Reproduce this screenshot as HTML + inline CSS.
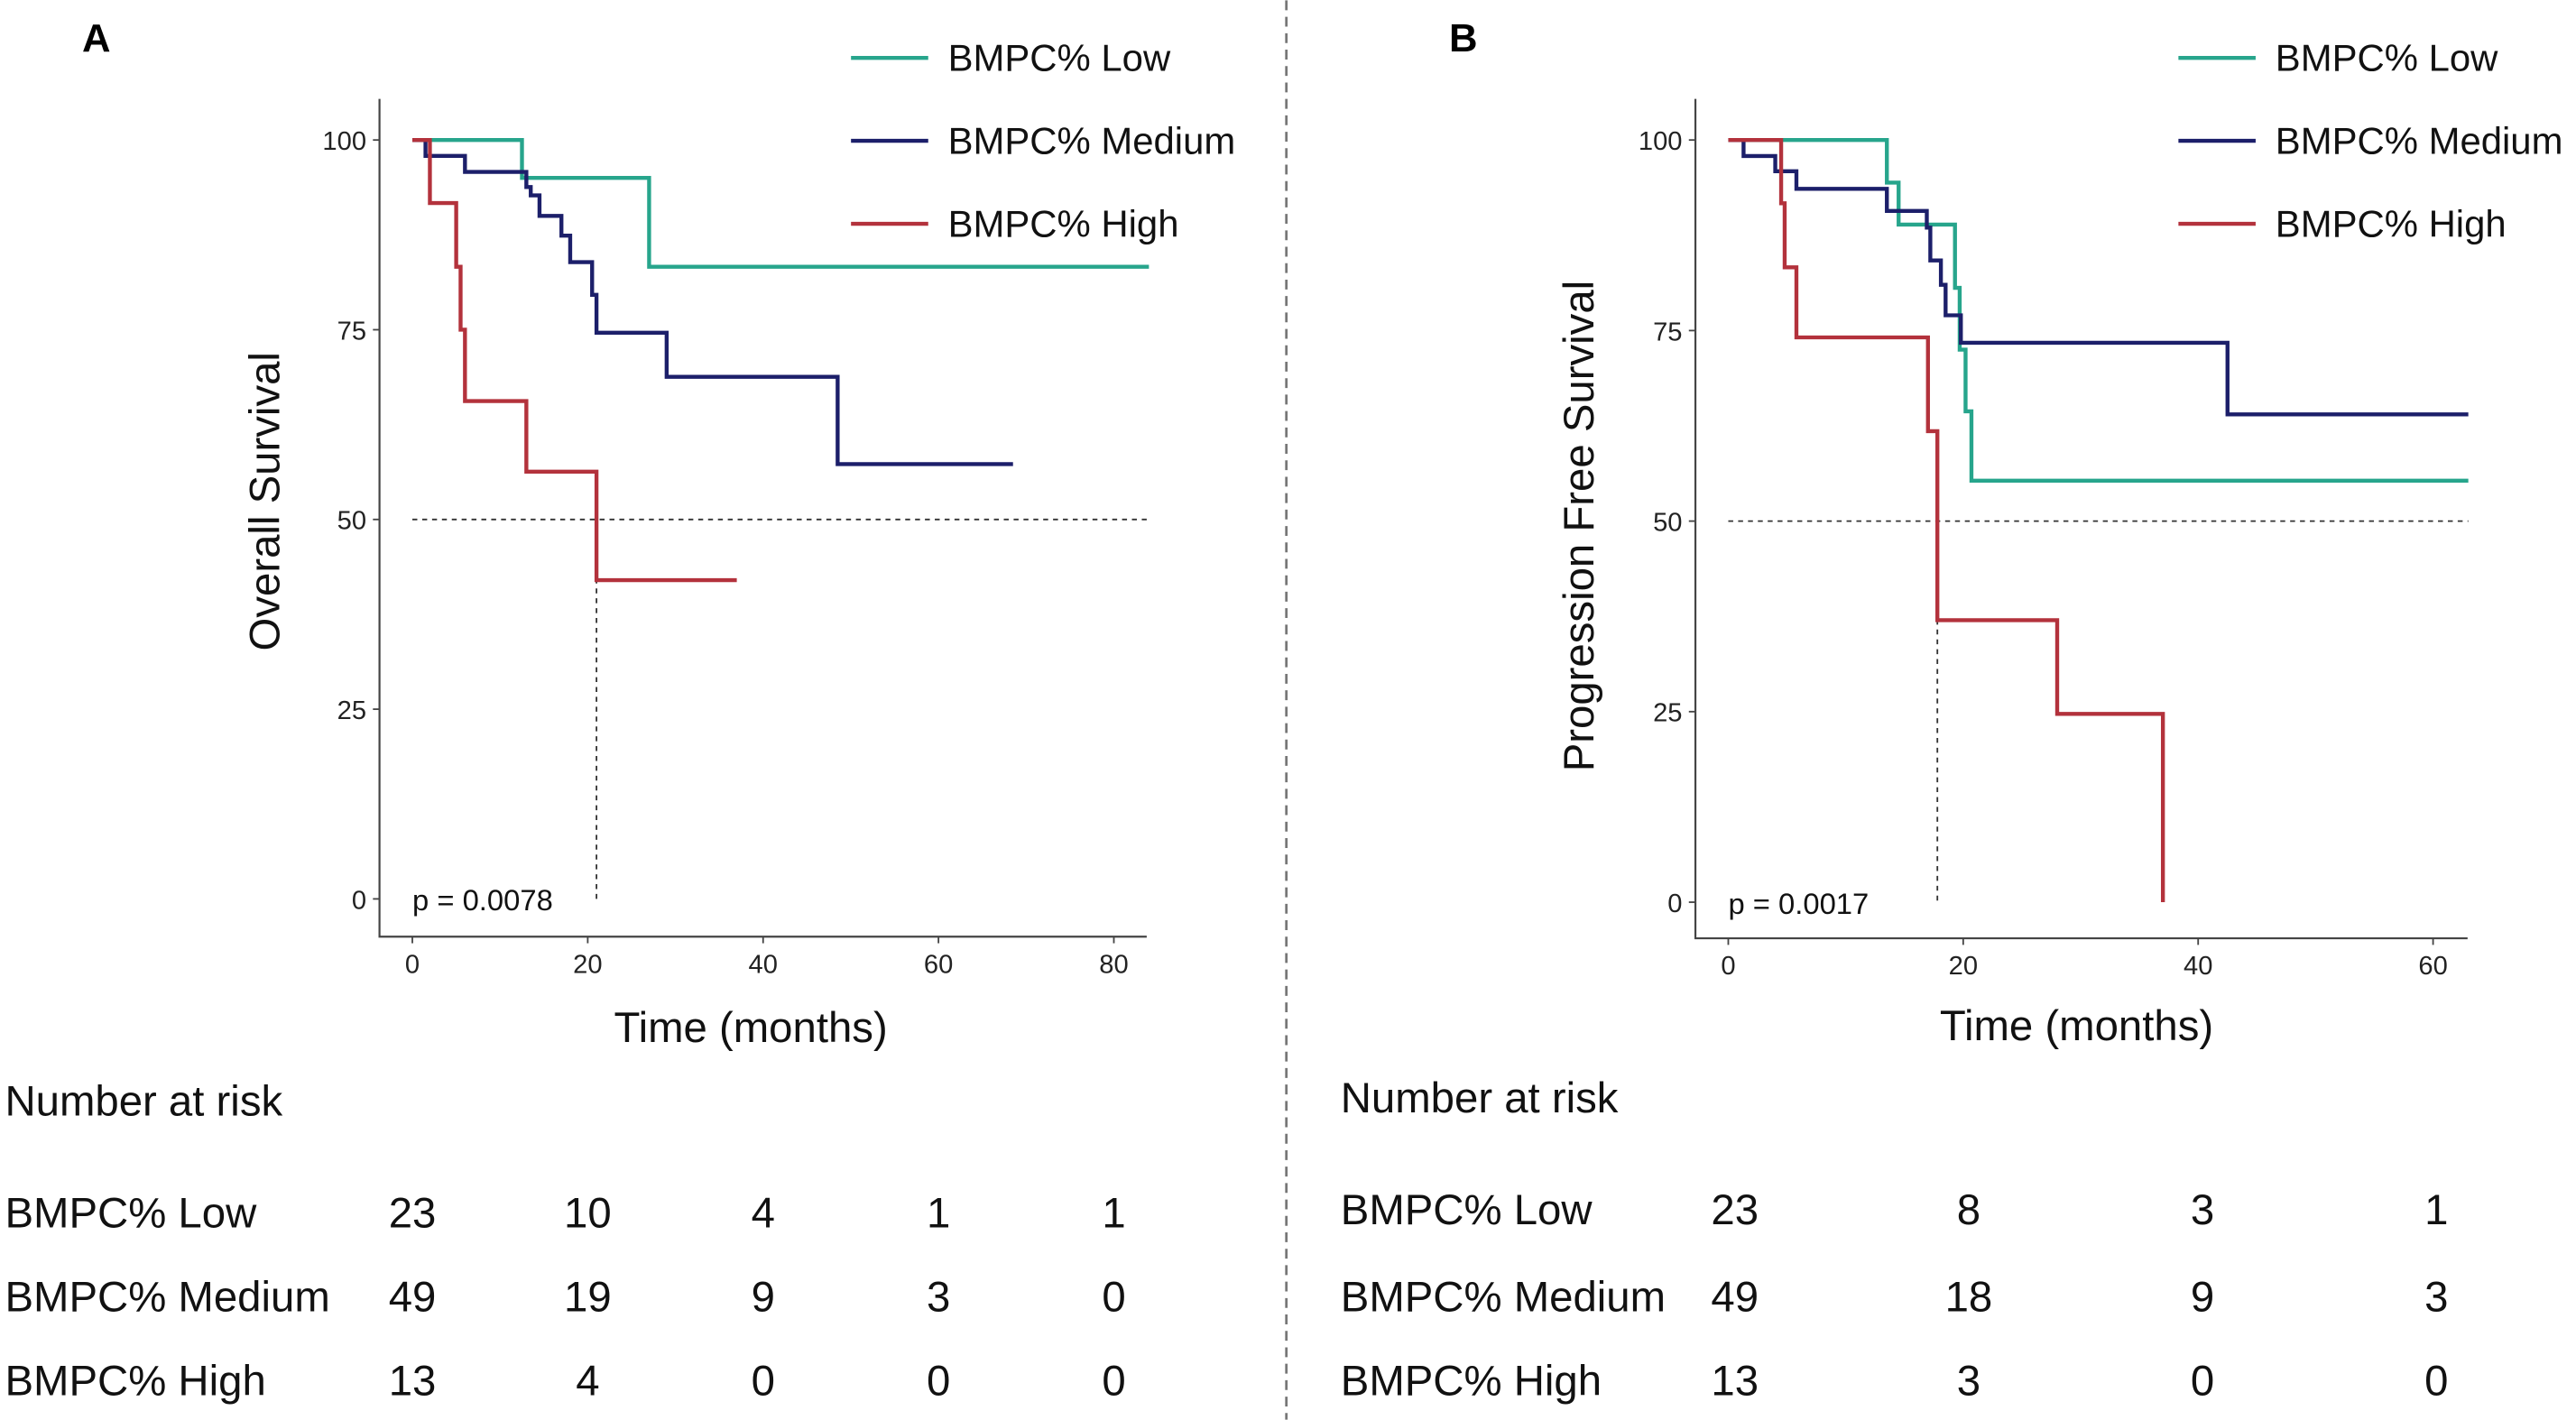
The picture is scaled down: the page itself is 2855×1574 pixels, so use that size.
<!DOCTYPE html>
<html><head><meta charset="utf-8"><style>
html,body{margin:0;padding:0;background:#fff}
svg{display:block;font-family:"Liberation Sans",Arial,sans-serif}
</style></head><body>
<svg id="fig" width="2855" height="1574" viewBox="0 0 1568 864">
<line x1="783" y1="0" x2="783" y2="864" stroke="#777" stroke-width="1.5" stroke-dasharray="6,4"/>
<text x="50" y="31" font-size="24" font-weight="bold">A</text>
<text x="882" y="31" font-size="24" font-weight="bold">B</text>
<g id="pa"></g>
<g id="pb"></g>
<g id="risk"></g>
</svg>
<script>
const NS="http://www.w3.org/2000/svg";
const groupNames=["BMPC% Low","BMPC% Medium","BMPC% High"];
const colors=["#27a58c","#1c1f6a","#b3323c"];
// Panel A (overall survival): [time, survival%] step points
const osLow=[[0,100],[12.5,95],[27,83.3]];const osLowEnd=84;
const osMed=[[0,100],[1.5,97.9],[6,95.8],[13,93.8],[13.5,92.7],[14.5,90],[17,87.4],[18,83.9],[20.5,79.6],[21,74.6],[29,68.8],[48.5,57.3]];const osMedEnd=68.5;
const osHigh=[[0,100],[2,91.7],[5,83.3],[5.5,75],[6,65.6],[13,56.3],[21,42]];const osHighEnd=37;
const osMedian=21;
const osTicksX=[0,20,40,60,80];const osTicksY=[0,25,50,75,100];
const osRisk=[[23,10,4,1,1],[49,19,9,3,0],[13,4,0,0,0]];
// Panel B (PFS)
const pfsLow=[[0,100],[13.5,94.4],[14.5,88.9],[19.3,80.6],[19.7,72.5],[20.2,64.4],[20.7,55.3]];const pfsLowEnd=63;
const pfsMed=[[0,100],[1.3,97.9],[4,95.9],[5.8,93.6],[13.5,90.7],[16.9,88.5],[17.2,84.2],[18.1,81],[18.5,77],[19.8,73.4],[42.5,64]];const pfsMedEnd=63;
const pfsHigh=[[0,100],[4.5,91.7],[4.8,83.3],[5.8,74.1],[17,61.8],[17.8,37],[28,24.7],[37,0]];const pfsHighEnd=37;
const pfsMedian=17.8;
const pfsTicksX=[0,20,40,60];const pfsTicksY=[0,25,50,75,100];
const pfsRisk=[[23,8,3,1],[49,18,9,3],[13,3,0,0]];

function mk(tag,attrs,parent,txt){const e=document.createElementNS(NS,tag);for(const k in attrs)e.setAttribute(k,attrs[k]);if(txt!==undefined)e.textContent=txt;parent.appendChild(e);return e;}
function panel(g,cfg){
 const sx=t=>cfg.x0+(t-cfg.t0)*(cfg.x1-cfg.x0)/(cfg.t1-cfg.t0);
 const sy=v=>cfg.y0+(v)*(cfg.y100-cfg.y0)/100;
 let ax=mk('path',{d:`M${cfg.axL},${cfg.axT}V${cfg.axB}H${cfg.axR}`,fill:'none',stroke:'#444','stroke-width':1.2},g);
 
 cfg.ty.forEach(v=>{mk('line',{x1:cfg.axL-4,x2:cfg.axL,y1:sy(v),y2:sy(v),stroke:'#444'},g);
  const t=mk('text',{x:cfg.axL-8,y:sy(v)+6,'font-size':16,'text-anchor':'end',fill:'#222'},g,String(v));
  });
 cfg.tx.forEach(v=>{mk('line',{x1:sx(v),x2:sx(v),y1:cfg.axB,y2:cfg.axB+4,stroke:'#444'},g);
  const t=mk('text',{x:sx(v),y:cfg.axB+22,'font-size':16,'text-anchor':'middle',fill:'#222'},g,String(v));
  });
 const yt=mk('text',{x:0,y:0,'font-size':26,'text-anchor':'middle',transform:`translate(${cfg.ytx},${cfg.yty}) rotate(-90)`,fill:'#111'},g,cfg.ytitle);
 
 const xt=mk('text',{x:cfg.xtx,y:cfg.xty,'font-size':26,'text-anchor':'middle',fill:'#111'},g,'Time (months)');
 
 const ml=mk('path',{d:`M${sx(0)},${sy(50)}H${sx(cfg.t1max)}M${sx(cfg.med)},${sy(50)}V${sy(0)}`,fill:'none',stroke:'#333','stroke-width':1,'stroke-dasharray':'3,3'},g);
 
 cfg.series.forEach((s,i)=>{let d=`M${sx(s.pts[0][0])},${sy(s.pts[0][1])}`;
  for(let k=1;k<s.pts.length;k++){const [t,v]=s.pts[k];d+=`H${sx(t)}V${sy(v)}`;}
  d+=`H${sx(s.end)}`;
  const p=mk('path',{d:d,fill:'none',stroke:colors[i],'stroke-width':2.4},g);
  });
 const pt=mk('text',{x:sx(0),y:sy(0)+7,'font-size':18,fill:'#111'},g,cfg.p);
 
 groupNames.forEach((n,i)=>{const y=cfg.legY+i*50.5;
  const l=mk('line',{x1:cfg.legX,x2:cfg.legX+47,y1:y,y2:y,stroke:colors[i],'stroke-width':2.4},g);
  
  const t=mk('text',{x:cfg.legX+59,y:y+8,'font-size':23,fill:'#111'},g,n);
  });
}
panel(document.getElementById('pa'),{x0:251,x1:678,t0:0,t1:80,y0:547,y100:85,axL:231,axT:60,axB:570,axR:698,
 ty:osTicksY,tx:osTicksX,ytitle:'Overall Survival',ytx:170,yty:305,xtx:457,xty:634,med:osMedian,t1max:84,p:'p = 0.0078',
 legX:518,legY:35,series:[{pts:osLow,end:osLowEnd},{pts:osMed,end:osMedEnd},{pts:osHigh,end:osHighEnd}]});
panel(document.getElementById('pb'),{x0:1052,x1:1481,t0:0,t1:60,y0:549,y100:85,axL:1032,axT:60,axB:571,axR:1502,
 ty:pfsTicksY,tx:pfsTicksX,ytitle:'Progression Free Survival',ytx:970,yty:320,xtx:1264,xty:633,med:pfsMedian,t1max:63,p:'p = 0.0017',
 legX:1326,legY:35,series:[{pts:pfsLow,end:pfsLowEnd},{pts:pfsMed,end:pfsMedEnd},{pts:pfsHigh,end:pfsHighEnd}]});
function risk(g,x,cols,title,rowY,data){
 const t=mk('text',{x:x,y:title+9,'font-size':26,fill:'#111'},g,'Number at risk');
 
 groupNames.forEach((n,i)=>{const l=mk('text',{x:x,y:rowY[i]+9,'font-size':26,fill:'#111'},g,n);
  
  data[i].forEach((v,j)=>{const c=mk('text',{x:cols[j],y:rowY[i]+9,'font-size':26,'text-anchor':'middle',fill:'#111'},g,String(v));
   });});
}
const rg=document.getElementById('risk');
risk(rg,3,osTicksX.map(t=>251+t*(678-251)/80),670,[738,789,840],osRisk);
risk(rg,816,pfsTicksX.map(t=>1056+t*(1483-1056)/60),668,[736,789,840],pfsRisk);
</script>
</body></html>
